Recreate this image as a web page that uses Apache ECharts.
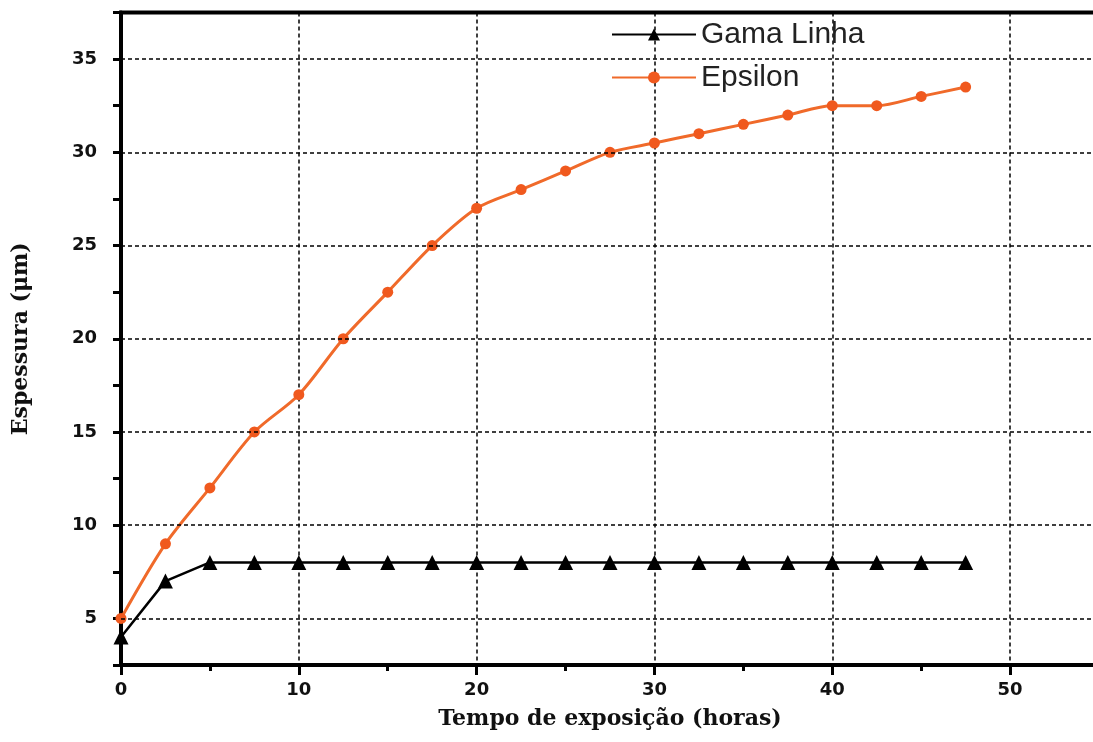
<!DOCTYPE html>
<html>
<head>
<meta charset="utf-8">
<script src="https://cdn.jsdelivr.net/npm/echarts@6/dist/echarts.min.js"></script>
<style>
html,body{margin:0;padding:0;background:#fff;}
#chart{width:1093px;height:742px;}
</style>
</head>
<body>
<div id="chart"></div>
<script>
const timeHours = [0, 2.5, 5, 7.5, 10, 12.5, 15, 17.5, 20, 22.5, 25, 27.5, 30, 32.5, 35, 37.5, 40, 42.5, 45, 47.5];
const gamaLinha = [4, 7, 8, 8, 8, 8, 8, 8, 8, 8, 8, 8, 8, 8, 8, 8, 8, 8, 8, 8];
const epsilon = [5, 9, 12, 15, 17, 20, 22.5, 25, 27, 28, 29, 30, 30.5, 31, 31.5, 32, 32.5, 32.5, 33, 33.5];
const yGridValues = [5, 10, 15, 20, 25, 30, 35];
const seriesNames = ['Gama Linha', 'Epsilon'];

const chart = echarts.init(document.getElementById('chart'));
const gridLineStyle = {color: '#000', type: [4, 3], width: 1.5};

chart.setOption({
  animation: false,
  backgroundColor: '#fff',
  grid: {left: 121, width: 978, top: 12.5, bottom: 77, outerBoundsMode: 'none', containLabel: false,
    show: true, borderColor: '#000', borderWidth: 4, backgroundColor: 'transparent'},
  legend: {
    orient: 'vertical',
    left: 606,
    top: 14,
    itemWidth: 84,
    itemHeight: 15,
    itemGap: 12,
    textStyle: {fontFamily: 'Liberation Sans', fontSize: 30, color: '#222', lineHeight: 31, padding: [0, 0, 0, 0]},
    data: seriesNames
  },
  xAxis: {
    type: 'value',
    min: 0,
    max: 55,
    interval: 10,
    name: 'Tempo de exposição (horas)',
    nameLocation: 'middle',
    nameGap: 43,
    nameTextStyle: {fontFamily: 'DejaVu Serif', fontWeight: 'bold', fontSize: 22, color: '#111'},
    axisLine: {show: true, lineStyle: {color: '#000', width: 4}},
    axisTick: {show: true, length: 10, lineStyle: {color: '#000', width: 3}},
    minorTick: {show: true, splitNumber: 2, length: 6, lineStyle: {color: '#000', width: 3}},
    axisLabel: {fontFamily: 'DejaVu Sans', fontWeight: 'bold', fontSize: 18, color: '#111', margin: 16, showMaxLabel: false,
      formatter: v => (v % 10 === 0 ? String(v) : '')},
    splitLine: {show: true, lineStyle: gridLineStyle}
  },
  yAxis: {
    type: 'value',
    min: 2.5,
    max: 37.5,
    interval: 2.5,
    name: 'Espessura (μm)',
    nameLocation: 'middle',
    nameGap: 89,
    nameTextStyle: {fontFamily: 'DejaVu Serif', fontWeight: 'bold', fontSize: 22, color: '#111'},
    axisLine: {show: true, lineStyle: {color: '#000', width: 4}},
    axisTick: {show: true, length: 8, lineStyle: {color: '#000', width: 3}},
    axisLabel: {fontFamily: 'DejaVu Sans', fontWeight: 'bold', fontSize: 18, color: '#111', margin: 24,
      formatter: v => (v % 5 === 0 ? String(v) : '')},
    splitLine: {show: false}
  },
  series: [
    {
      name: seriesNames[0],
      type: 'line',
      data: timeHours.map((t, i) => [t, gamaLinha[i]]),
      symbol: 'triangle',
      symbolSize: 15,
      color: '#000',
      lineStyle: {color: '#000', width: 2.5},
      itemStyle: {color: '#000'},
      z: 3,
      markLine: {
        silent: true,
        symbol: 'none',
        label: {show: false},
        lineStyle: gridLineStyle,
        data: yGridValues.map(v => ({yAxis: v}))
      }
    },
    {
      name: seriesNames[1],
      type: 'line',
      data: timeHours.map((t, i) => [t, epsilon[i]]),
      smooth: 0.3,
      symbol: 'circle',
      symbolSize: 11,
      color: '#F0591E',
      lineStyle: {color: '#F06A2A', width: 3},
      itemStyle: {color: '#F0591E'},
      z: 4
    }
  ]
});
</script>
</body>
</html>
